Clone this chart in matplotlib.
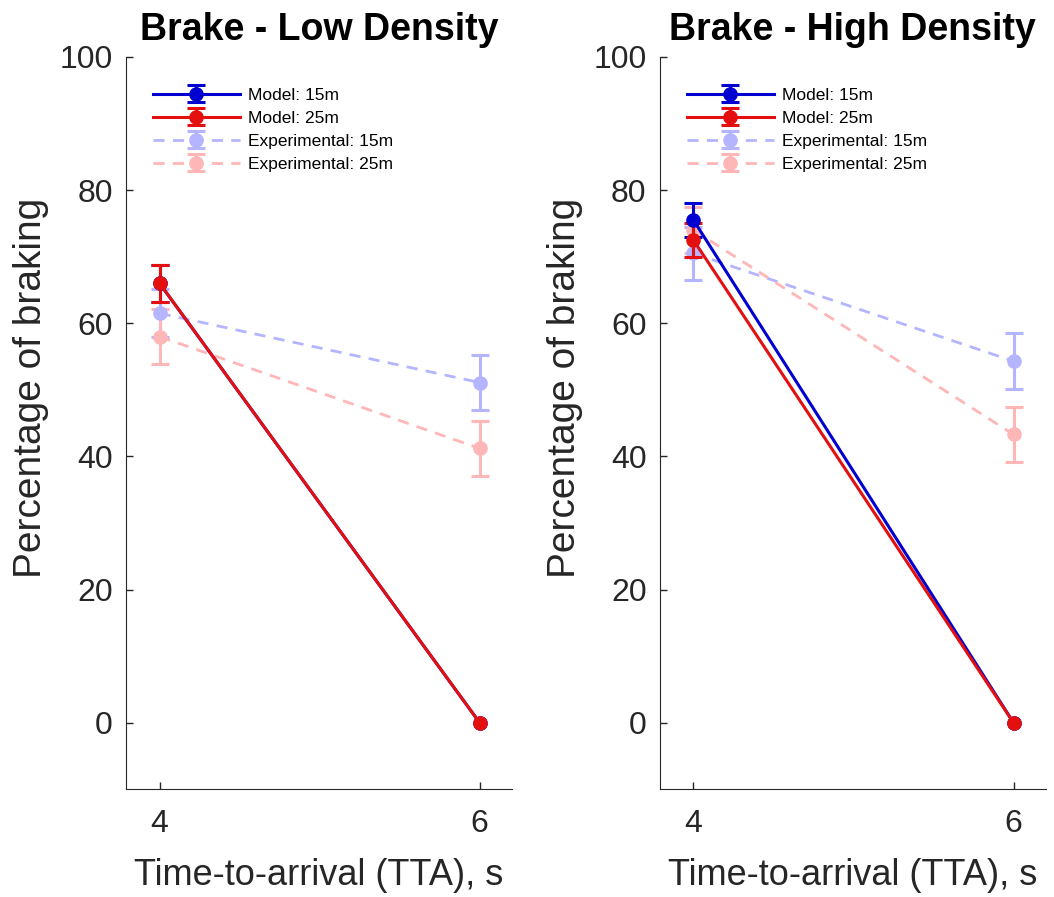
import numpy as np
import matplotlib
matplotlib.use('Agg')
import matplotlib.pyplot as plt

plt.rcParams['font.family'] = ['Liberation Sans', 'DejaVu Sans']

# time-to-arrival values
tta = [4, 6]

# low density panel
low_model_15 = [66.0, 0.0]
low_model_15_err = [2.8, 0.0]
low_model_25 = [66.0, 0.0]
low_model_25_err = [2.8, 0.0]
low_exp_15 = [61.5, 51.1]
low_exp_15_err = [3.6, 4.1]
low_exp_25 = [58.0, 41.2]
low_exp_25_err = [4.1, 4.1]

# high density panel
high_model_15 = [75.5, 0.0]
high_model_15_err = [2.6, 0.0]
high_model_25 = [72.5, 0.0]
high_model_25_err = [2.6, 0.0]
high_exp_15 = [70.5, 54.3]
high_exp_15_err = [4.0, 4.2]
high_exp_25 = [74.0, 43.3]
high_exp_25_err = [3.5, 4.2]

titles = ['Brake - Low Density', 'Brake - High Density']
labels = ['Model: 15m', 'Model: 25m', 'Experimental: 15m', 'Experimental: 25m']

c_blue = '#0000D0'
c_red = '#E41010'
c_lblue = '#B4B4FF'
c_lred = '#FFB6B6'
c_txt = '#262626'


def nz(err):
    # hide zero-size error bars (no caps drawn)
    err = np.array(err, dtype=float)
    return np.where(err > 0, err, np.nan)


fig = plt.figure(figsize=(10.54, 8.97), dpi=100)
ax1 = fig.add_axes([0.1195, 0.120, 0.366, 0.8165])
ax2 = fig.add_axes([0.626, 0.120, 0.366, 0.8165])

panels = [
    (ax1, low_model_15, low_model_15_err, low_model_25, low_model_25_err,
     low_exp_15, low_exp_15_err, low_exp_25, low_exp_25_err),
    (ax2, high_model_15, high_model_15_err, high_model_25, high_model_25_err,
     high_exp_15, high_exp_15_err, high_exp_25, high_exp_25_err),
]

for i, (ax, m15, m15e, m25, m25e, e15, e15e, e25, e25e) in enumerate(panels):
    kw = dict(marker='o', markersize=9.5, capsize=6.5, elinewidth=2.2, capthick=2.2)
    h3 = ax.errorbar(tta, e15, yerr=nz(e15e), color=c_lblue, linestyle=(0, (4, 3)),
                     linewidth=2, zorder=2, **kw)
    h4 = ax.errorbar(tta, e25, yerr=nz(e25e), color=c_lred, linestyle=(0, (4, 3)),
                     linewidth=2, zorder=2, **kw)
    h1 = ax.errorbar(tta, m15, yerr=nz(m15e), color=c_blue, linewidth=2.2,
                     zorder=3, **kw)
    h2 = ax.errorbar(tta, m25, yerr=nz(m25e), color=c_red, linewidth=2.2,
                     zorder=3, **kw)

    ax.set_xlim(3.79, 6.2)
    ax.set_ylim(-10, 100)
    ax.set_xticks([4, 6])
    ax.set_yticks([0, 20, 40, 60, 80, 100])
    ax.tick_params(direction='in', labelsize=23, length=5, width=1,
                   colors=c_txt)
    ax.tick_params(axis='y', pad=9.5)
    ax.tick_params(axis='x', pad=14)
    for s in ['top', 'right']:
        ax.spines[s].set_visible(False)
    for s in ['left', 'bottom']:
        ax.spines[s].set_color(c_txt)
    ax.set_title(titles[i], fontsize=27, fontweight='bold', pad=12)
    ax.set_xlabel('Time-to-arrival (TTA), s', fontsize=26, color=c_txt, labelpad=14)
    ax.set_ylabel('Percentage of braking', fontsize=28, color=c_txt)
    ax.yaxis.set_label_coords(-0.199, 0.548)
    ax.legend([h1, h2, h3, h4], labels,
              loc='upper left', bbox_to_anchor=(0.07, 0.958), borderaxespad=0,
              borderpad=0, frameon=False, fontsize=12.5, handlelength=5.0,
              handletextpad=0.46, labelspacing=0.45)

fig.savefig('out.png', dpi=100)
